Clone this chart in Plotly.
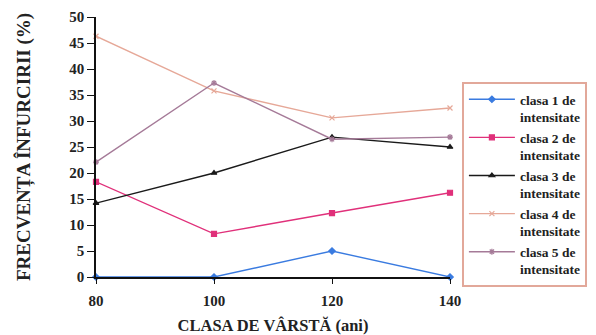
import plotly.graph_objects as go

# Age classes (years) and branching frequency (%) per intensity class
varsta = [80, 100, 120, 140]
clasa_1 = [0, 0, 5, 0]
clasa_2 = [18.3, 8.3, 12.3, 16.2]
clasa_3 = [14.2, 20, 26.9, 25]
clasa_4 = [46.3, 35.8, 30.6, 32.5]
clasa_5 = [22.1, 37.3, 26.5, 26.9]

serie = [
    ("<b>clasa 1 de<br>intensitate</b>", clasa_1, "#3a7be0", "diamond"),
    ("<b>clasa 2 de<br>intensitate</b>", clasa_2, "#e0307a", "square"),
    ("<b>clasa 3 de<br>intensitate</b>", clasa_3, "#1a1a1a", "triangle-up"),
    ("<b>clasa 4 de<br>intensitate</b>", clasa_4, "#e6a898", "x-thin-open"),
    ("<b>clasa 5 de<br>intensitate</b>", clasa_5, "#a57a98", "asterisk-open"),
]

FONT = "Liberation Serif"

fig = go.Figure()
for nume, valori, culoare, simbol in serie:
    fig.add_trace(go.Scatter(
        x=varsta, y=valori, name=nume, mode="lines+markers",
        line=dict(color=culoare, width=1.4),
        marker=dict(symbol=simbol, size=5, color=culoare,
                    line=dict(color=culoare, width=1.2)),
        cliponaxis=False,
    ))

fig.update_layout(
    width=596, height=335,
    margin=dict(l=96, r=146, t=17, b=58),
    paper_bgcolor="white", plot_bgcolor="white",
    font=dict(family=FONT, size=13, color="#222"),
    showlegend=True,
    legend=dict(
        xref="container",
        x=0.775, y=0.75, xanchor="left", yanchor="top",
        bgcolor="white", bordercolor="#e2a89a", borderwidth=2,
        font=dict(family=FONT, size=13.5, color="#222"),
        valign="top", tracegroupgap=0, itemwidth=46,
    ),
    xaxis=dict(
        range=[80, 140], tickvals=varsta, showgrid=False, zeroline=False,
        automargin=False,
        showline=True, linecolor="#111", linewidth=1.5,
        ticks="outside", ticklen=5, tickcolor="#111", ticklabelstandoff=4,
        tickfont=dict(family=FONT, size=15, color="#222", weight="bold"),
        title=dict(text="CLASA DE VÂRSTĂ (ani)", standoff=14,
                   font=dict(family=FONT, size=16.5, color="#222", weight="bold")),
    ),
    yaxis=dict(
        range=[0, 50], dtick=5, showgrid=False, zeroline=False,
        automargin=False,
        showline=True, linecolor="#111", linewidth=1.5,
        ticks="outside", ticklen=7, tickcolor="#111",
        tickfont=dict(family=FONT, size=15, color="#222", weight="bold"),
        title=dict(text="FRECVENȚA ÎNFURCIRII (%)", standoff=34,
                   font=dict(family=FONT, size=19, color="#222", weight="bold")),
    ),
)

fig.write_html("out.html")
